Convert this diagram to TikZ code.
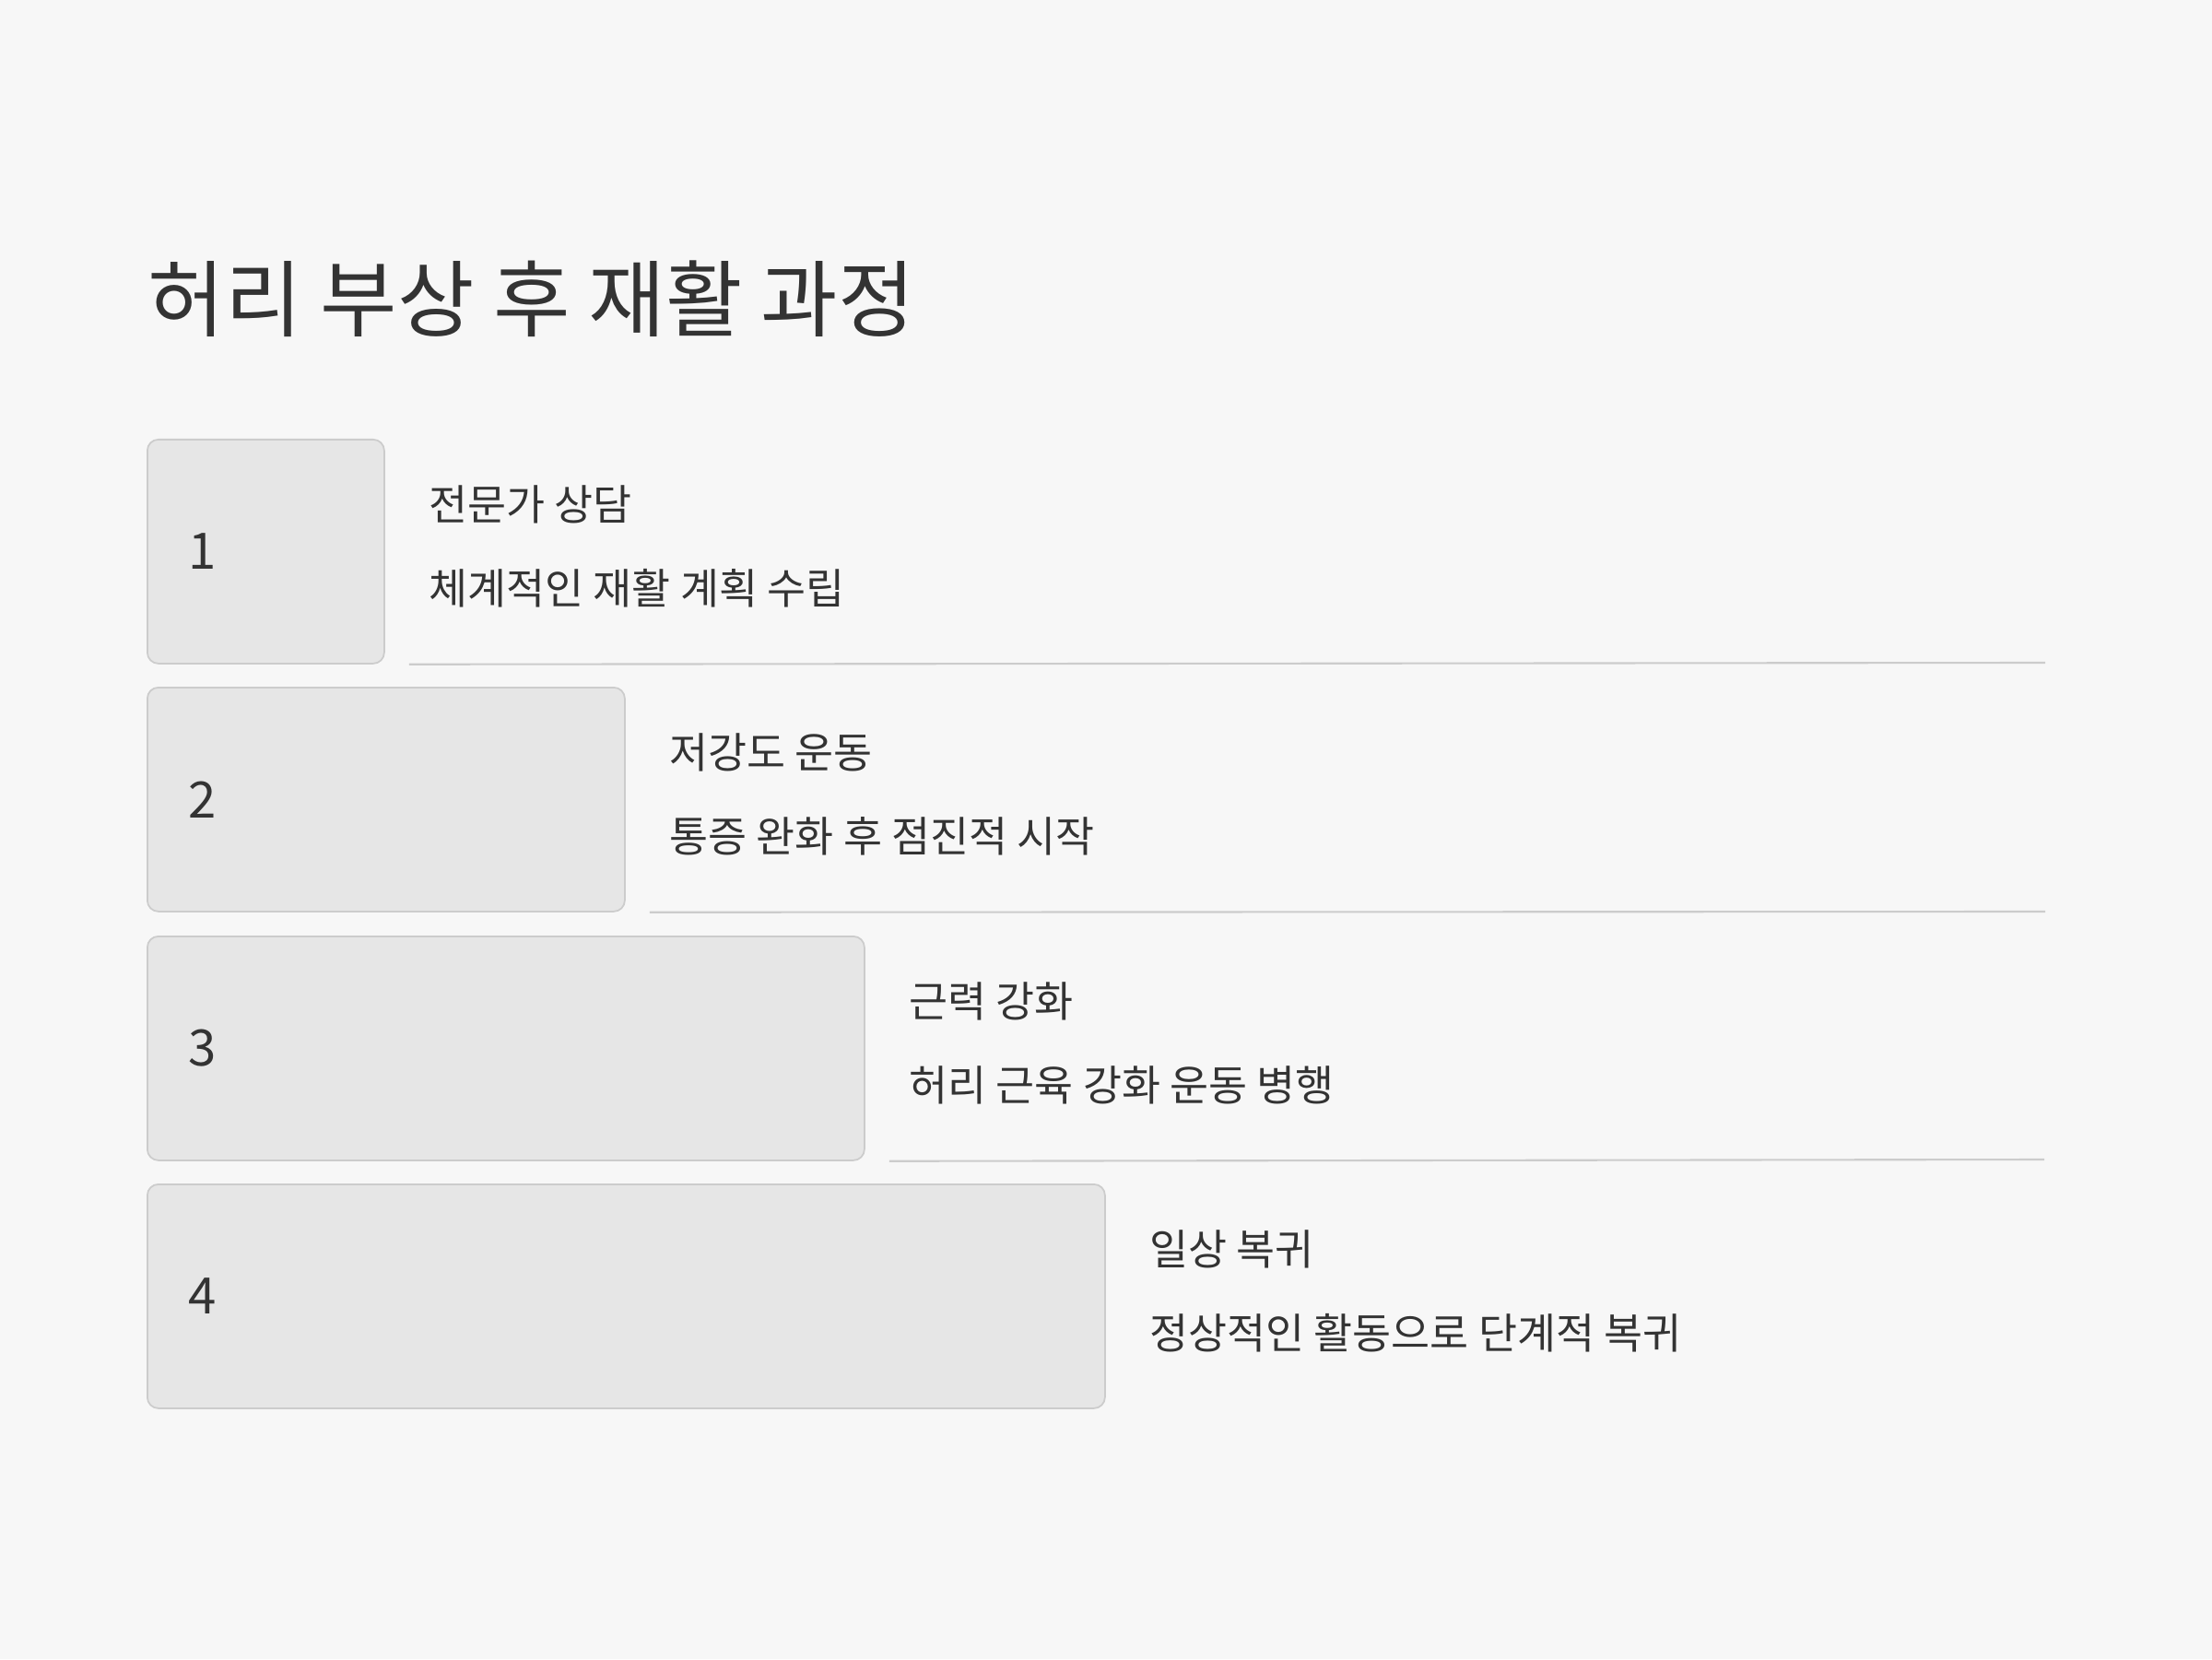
\documentclass[tikz,border=0pt]{standalone}
\usepackage{fontspec}
\setmainfont{Noto Sans CJK KR}
\usetikzlibrary{positioning}

\definecolor{bgcol}{HTML}{F7F7F7}
\definecolor{boxfill}{HTML}{E6E6E6}
\definecolor{boxline}{HTML}{CCCCCC}
\definecolor{ink}{HTML}{333333}

\begin{document}
\begin{tikzpicture}[
	stepbox/.style={draw=boxline, line width=0.5pt, fill=boxfill, rounded corners=3.4pt,
		minimum height=2.43cm, inner sep=0pt, anchor=north west},
	num/.style={text=ink, font=\fontsize{15.5}{18}\selectfont, inner sep=0pt},
	head/.style={text=ink, font=\fontsize{13}{16}\selectfont, inner sep=0pt},
	rule/.style={draw=boxline, line width=0.6pt}
]
		\fill [bgcol] (0,0) rectangle (24,18);
		\useasboundingbox (0,0) rectangle (24,18);

		\draw (1.60,14.76) node [text=ink, font=\fontsize{25.8}{30}\selectfont, inner sep=0pt, anchor=west] (title) {허리 부상 후 재활 과정};

		% the four steps, each box longer than the one above
		\draw (1.59,13.24) node [stepbox, minimum width=2.57cm] (b1) {};
		\draw (1.59,10.55) node [stepbox, minimum width=5.18cm] (b2) {};
		\draw (1.59,7.85) node [stepbox, minimum width=7.78cm] (b3) {};
		\draw (1.59,5.16) node [stepbox, minimum width=10.39cm] (b4) {};

		\node [num, right=0.45cm of b1.west] (n1) {1};
		\node [num, right=0.45cm of b2.west] (n2) {2};
		\node [num, right=0.45cm of b3.west] (n3) {3};
		\node [num, right=0.45cm of b4.west] (n4) {4};

		\node [head, right=0.47cm of b1.east, yshift=0.51cm] (t1) {전문가 상담};
		\node [head, right=0.47cm of b1.east, yshift=-0.40cm] (s1) {체계적인 재활 계획 수립};
		\node [head, right=0.47cm of b2.east, yshift=0.51cm] (t2) {저강도 운동};
		\node [head, right=0.47cm of b2.east, yshift=-0.40cm] (s2) {통증 완화 후 점진적 시작};
		\node [head, right=0.47cm of b3.east, yshift=0.51cm] (t3) {근력 강화};
		\node [head, right=0.47cm of b3.east, yshift=-0.40cm] (s3) {허리 근육 강화 운동 병행};
		\node [head, right=0.47cm of b4.east, yshift=0.51cm] (t4) {일상 복귀};
		\node [head, right=0.47cm of b4.east, yshift=-0.40cm] (s4) {정상적인 활동으로 단계적 복귀};

		% rules under the first three rows
		\coordinate [right=0.26cm of b1.south east] (l1);
		\coordinate [right=0.26cm of b2.south east] (l2);
		\coordinate [right=0.26cm of b3.south east] (l3);
		\coordinate (r1) at (22.19,10.81);
		\coordinate (r2) at (22.19,8.11);
		\coordinate (r3) at (22.18,5.42);

		\draw [rule] (l1) -- (r1);
		\draw [rule] (l2) -- (r2);
		\draw [rule] (l3) -- (r3);
	\end{tikzpicture}
\end{document}
